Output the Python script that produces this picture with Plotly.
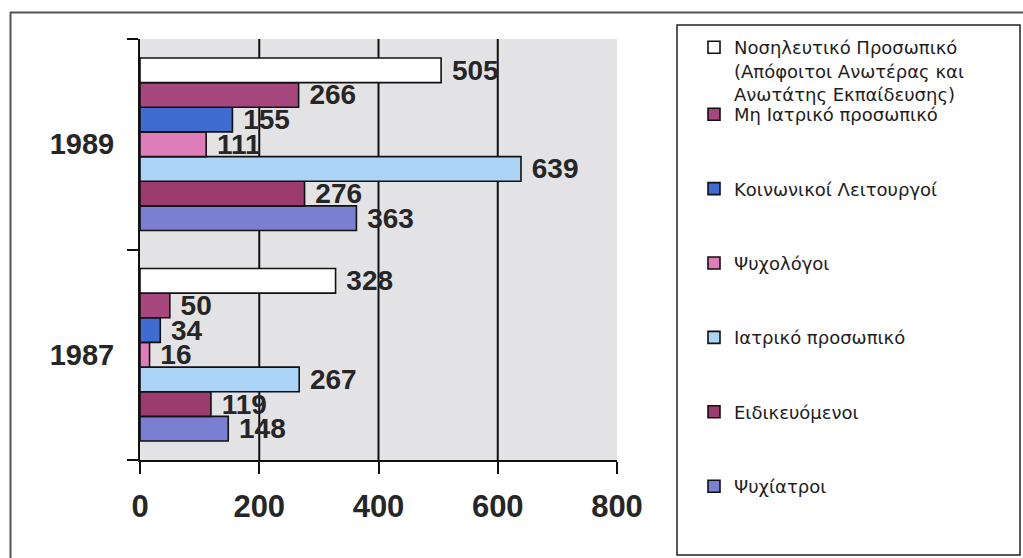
import plotly.graph_objects as go

# Staff counts per category for the two survey years
years = ["1987", "1989"]
categories = [
    "Ψυχίατροι",
    "Ειδικευόμενοι",
    "Ιατρικό προσωπικό",
    "Ψυχολόγοι",
    "Κοινωνικοί Λειτουργοί",
    "Μη Ιατρικό προσωπικό",
    "Νοσηλευτικό Προσωπικό<br>(Απόφοιτοι Ανωτέρας και<br>Ανωτάτης Εκπαίδευσης)",
]
values_1987 = [148, 119, 267, 16, 34, 50, 328]
values_1989 = [363, 276, 639, 111, 155, 266, 505]
x_ticks = [0, 200, 400, 600, 800]

colors = ["#7b7fd2", "#9c3c6e", "#acd4f6", "#df7cba", "#3f6cd0", "#a6487e", "#ffffff"]

W, H = 1023, 558
L, R, T, B = 140, 406, 39, 98
pw, ph = W - L - R, H - T - B


def px(X):
    return (X - L) / pw


def py(Y):
    return (H - B - Y) / ph


n = len(categories)
fig = go.Figure()
for i, name in enumerate(categories):
    fig.add_trace(go.Bar(
        y=years,
        x=[values_1987[i], values_1989[i]],
        name=name,
        orientation="h",
        marker=dict(color=colors[i], line=dict(color="#111111", width=1.6)),
        text=[values_1987[i], values_1989[i]],
        texttemplate="\u00a0%{x}",
        textposition="outside",
        textfont=dict(family="Liberation Sans", size=28, color="#262626", weight="bold"),
        constraintext="none",
        cliponaxis=False,
        legend="legend2" if i == n - 1 else "legend",
        legendgroup=f"g{i}",
        legendrank=n - i,
    ))

# vertical grid lines at the inner tick values
shapes = []
for v in x_ticks[1:-1]:
    shapes.append(dict(type="line", xref="x", yref="paper", x0=v, x1=v, y0=0, y1=1,
                       line=dict(color="#111111", width=2), layer="below"))

# legend frame
shapes.append(dict(type="rect", xref="paper", yref="paper",
                   x0=px(677), x1=px(1020), y0=py(555), y1=py(25),
                   line=dict(color="#222222", width=1.5)))
# outer frame (top and left edges)
shapes.append(dict(type="line", xref="paper", yref="paper",
                   x0=px(10), x1=px(1023), y0=py(12.5), y1=py(12.5),
                   line=dict(color="#555555", width=2)))
shapes.append(dict(type="line", xref="paper", yref="paper",
                   x0=px(10.5), x1=px(10.5), y0=py(12), y1=py(558),
                   line=dict(color="#555555", width=2)))

legend_font = dict(family="DejaVu Sans", size=18, color="#1e1e1e")

fig.update_layout(
    width=W, height=H,
    margin=dict(l=L, r=R, t=T, b=B, pad=0),
    paper_bgcolor="#ffffff",
    plot_bgcolor="#e3e3e6",
    barmode="group",
    bargap=0.18,
    bargroupgap=0,
    shapes=shapes,
    showlegend=True,
    legend=dict(
        x=px(694), y=py(96), xanchor="left", yanchor="top",
        traceorder="grouped", tracegroupgap=48,
        font=legend_font, bgcolor="rgba(0,0,0,0)", borderwidth=0,
        itemclick=False, itemdoubleclick=False,
    ),
    legend2=dict(
        x=px(694), y=py(29), xanchor="left", yanchor="top",
        valign="top",
        font=legend_font, bgcolor="rgba(0,0,0,0)", borderwidth=0,
        itemclick=False, itemdoubleclick=False,
    ),
    xaxis=dict(
        range=[0, 800], tickvals=x_ticks, showgrid=False, zeroline=False,
        showline=True, linecolor="#111111", linewidth=2,
        ticks="outside", ticklen=12, tickwidth=2, tickcolor="#111111",
        ticklabelstandoff=6,
        tickfont=dict(family="Liberation Sans", size=31, color="#262626", weight="bold"),
    ),
    yaxis=dict(
        range=[-0.5, 1.5], showgrid=False, zeroline=False,
        showline=True, linecolor="#111111", linewidth=2,
        ticks="outside", tickson="boundaries", ticklen=11, tickwidth=2, tickcolor="#111111",
        ticklabelstandoff=18,
        tickfont=dict(family="Liberation Sans", size=29, color="#262626", weight="bold"),
    ),
)

fig.write_html("out.html")
